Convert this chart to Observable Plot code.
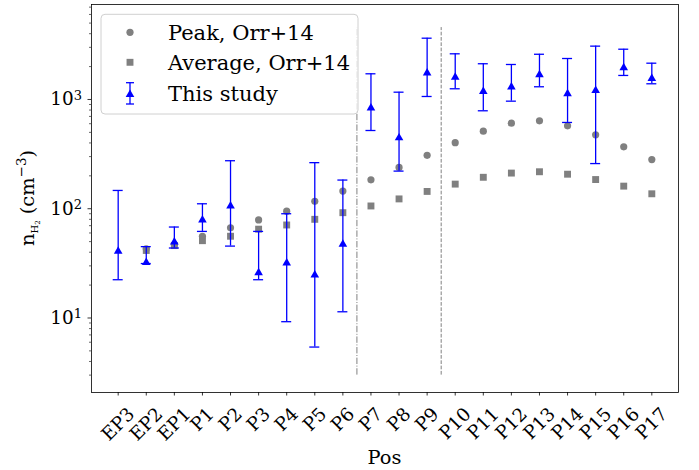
<!DOCTYPE html>
<html><head><meta charset="utf-8">
<script src="https://cdn.jsdelivr.net/npm/d3@7"></script>
<script src="https://cdn.jsdelivr.net/npm/@observablehq/plot@0.6"></script>
<style>body{margin:0;background:#fff} #chart{width:699px;height:470px}</style>
</head><body><div id="chart"></div>
<script>
const positions = ["EP3","EP2","EP1","P1","P2","P3","P4","P5","P6","P7","P8","P9","P10","P11","P12","P13","P14","P15","P16","P17"];
const peakOrr = [null, 43, 47, 56, 67, 79, 95, 117, 145, 184, 239, 308, 402, 513, 607, 638, 574, 475, 369, 282];
const avgOrr  = [null, 41.5, 46, 51, 56, 65, 71, 80, 92, 106, 123, 144, 168, 194, 212, 218, 207, 185, 161, 137];
const thisStudy  = [42, 33, 51, 81, 109, 26.6, 32.7, 25.4, 48.6, 858, 457, 1791, 1641, 1214, 1335, 1729, 1159, 1242, 2005, 1596];
const studyUpper = [147, 45, 68, 111, 275, 62, 90, 264, 183, 1718, 1166, 3638, 2618, 2123, 2090, 2593, 2371, 3077, 2884, 2148];
const studyLower = [22.4, 31.5, 43.7, 62, 45.5, 22.4, 9.25, 5.42, 11.4, 520, 221, 1065, 1253, 788, 965, 1307, 616, 259, 1659, 1392];
const yTickValues = [10, 100, 1000];
const yTickExponents = ["1", "2", "3"];
const separatorDashDot = [8.5];
const separatorDashed = [11.5];
const separatorRange = [3, 4550];
const legendLabels = ["Peak, Orr+14", "Average, Orr+14", "This study"];

const idx = positions.map((_, i) => i);
const rows = idx.map(i => ({i, peak: peakOrr[i], avg: avgOrr[i], v: thisStudy[i], hi: studyUpper[i], lo: studyLower[i]}));
const yDomain = [2.08, 7400];
const minorTicks = [];
for (const base of [1, 10, 100, 1000]) for (let k = 2; k <= 9; k++) { const t = k * base; if (t > yDomain[0] && t < yDomain[1]) minorTicks.push(t); }

const FONT = "'DejaVu Serif', serif";
const fsTick = 18.4, fsLab = 19.4, fsLegend = 21;
const ctx = document.createElement("canvas").getContext("2d");
ctx.font = `${fsTick}px 'DejaVu Serif'`;
const labelMarks = idx.map(i => {
  const w = ctx.measureText(positions[i]).width;
  const dy = 13.7 + (w + 0.73 * fsTick) / (2 * Math.SQRT2);
  return Plot.text([i], {x: d => d, frameAnchor: "bottom", text: d => positions[d], rotate: -45,
    textAnchor: "middle", lineAnchor: "middle", dy, fontSize: fsTick, fill: "black"});
});
const capHalf = 0.178;

const svg = Plot.plot({
  width: 699, height: 470,
  marginLeft: 91, marginRight: 21, marginTop: 4, marginBottom: 78,
  style: {fontFamily: FONT, fontSize: fsTick + "px", background: "white", color: "black"},
  x: {type: "linear", domain: [-0.95, 19.95]},
  y: {type: "log", domain: yDomain},
  marks: [
    Plot.ruleX(separatorDashDot, {x: d => d, y1: separatorRange[0], y2: separatorRange[1], stroke: "gray", strokeWidth: 1, strokeDasharray: "6.4,1.6,1,1.6"}),
    Plot.ruleX(separatorDashed, {x: d => d, y1: separatorRange[0], y2: separatorRange[1], stroke: "gray", strokeWidth: 1, strokeDasharray: "3.7,1.6"}),
    Plot.dot(rows, {x: "i", y: "peak", symbol: "circle", r: 3.6, fill: "gray"}),
    Plot.dot(rows, {x: "i", y: "avg", symbol: "square", r: 3.9, fill: "gray"}),
    Plot.ruleX(rows, {x: "i", y1: "lo", y2: "hi", stroke: "blue", strokeWidth: 1.3}),
    Plot.ruleY(rows, {y: "hi", x1: d => d.i - capHalf, x2: d => d.i + capHalf, stroke: "blue", strokeWidth: 1.3}),
    Plot.ruleY(rows, {y: "lo", x1: d => d.i - capHalf, x2: d => d.i + capHalf, stroke: "blue", strokeWidth: 1.3}),
    Plot.dot(rows, {x: "i", y: "v", symbol: "triangle", r: 3.2, fill: "blue", dy: 1.25}),
    Plot.axisX({ticks: idx, tickSize: 3.5, tickFormat: () => "", label: null, strokeWidth: 0.8}),
    Plot.axisY({ticks: yTickValues, tickSize: 3.5, tickPadding: 6, tickFormat: d => "10" + yTickExponents[yTickValues.indexOf(d)], label: null, fontSize: fsTick, strokeWidth: 0.8}),
    Plot.axisY({ticks: minorTicks, tickSize: 2, tickFormat: () => "", label: null, strokeWidth: 0.6}),
    ...labelMarks,
    Plot.frame({stroke: "black", strokeWidth: 0.8})
  ]
});
document.getElementById("chart").appendChild(svg);

const s = d3.select(svg);
// render exponent of y tick labels as superscripts
s.selectAll("text").each(function() {
  const t = this.textContent;
  const m = /^10([123])$/.exec(t);
  if (!m) return;
  const el = d3.select(this);
  el.text("");
  el.append("tspan").text("10");
  el.append("tspan").attr("font-size", 13).attr("dy", "-0.45em").text(m[1]);
});

// legend
const lg = s.append("g").attr("font-family", FONT).attr("font-size", fsLegend).attr("text-anchor", "start");
lg.append("rect").attr("x", 101).attr("y", 14.3).attr("width", 257).attr("height", 99.7).attr("rx", 4)
  .attr("fill", "white").attr("fill-opacity", 0.8).attr("stroke", "#d0d0d0").attr("stroke-width", 1);
const rowY = [32.3, 62.3, 93.3], mx = 130;
lg.append("circle").attr("cx", mx).attr("cy", rowY[0]).attr("r", 3.6).attr("fill", "gray");
lg.append("rect").attr("x", mx - 3.45).attr("y", rowY[1] - 3.45).attr("width", 6.9).attr("height", 6.9).attr("fill", "gray");
lg.append("line").attr("x1", mx).attr("x2", mx).attr("y1", 82.7).attr("y2", 104).attr("stroke", "blue").attr("stroke-width", 1.3);
lg.append("line").attr("x1", mx - 4).attr("x2", mx + 4).attr("y1", 82.7).attr("y2", 82.7).attr("stroke", "blue").attr("stroke-width", 1.3);
lg.append("line").attr("x1", mx - 4).attr("x2", mx + 4).attr("y1", 104).attr("y2", 104).attr("stroke", "blue").attr("stroke-width", 1.3);
lg.append("path").attr("d", d3.symbol(d3.symbolTriangle, Math.PI * 3.2 * 3.2)()).attr("transform", `translate(${mx},${rowY[2] + 1.25})`).attr("fill", "blue");
legendLabels.forEach((t, k) => lg.append("text").attr("x", 168).attr("y", rowY[k] + 7.6).attr("fill", "black")
  .attr("text-anchor", "start").attr("font-family", FONT).attr("font-size", fsLegend).text(t));

// axis labels
s.append("text").attr("x", 384.5).attr("y", 464).attr("text-anchor", "middle").attr("font-family", FONT).attr("font-size", fsLab).attr("fill", "black").text("Pos");
const yl = s.append("text").attr("transform", "translate(33.5,198) rotate(-90)").attr("text-anchor", "middle")
  .attr("font-family", FONT).attr("font-size", fsLab).attr("fill", "black");
yl.append("tspan").text("n");
yl.append("tspan").attr("font-size", 10).attr("dy", 4).text("H");
yl.append("tspan").attr("font-size", 7).attr("dy", 2).text("2");
yl.append("tspan").attr("font-size", fsLab).attr("dy", -6).text(" (cm");
yl.append("tspan").attr("font-size", 13.5).attr("dy", -8).text("−3");
yl.append("tspan").attr("font-size", fsLab).attr("dy", 8).text(")");
</script></body></html>
